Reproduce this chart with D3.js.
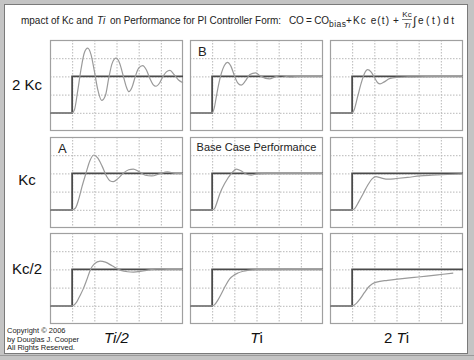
<!DOCTYPE html>
<html><head><meta charset="utf-8">
<script src="https://cdn.jsdelivr.net/npm/d3@7"></script>
<style>body{margin:0;background:#fff}svg{display:block}</style>
</head><body>
<svg id="c" width="474" height="360"></svg>
<script>
// ---- data ----
const rowLabels = ["2 Kc", "Kc", "Kc/2"];
const colLabels = ["Ti/2", "Ti", "2 Ti"];
const xGridTicks = [1, 2, 3, 4, 5];
const yGridTicks = [1, 2, 3, 4];
const spTime = [0, 1, 1, 6];
const spValue = [1, 1, 3, 3];
const pv_2Kc_halfTi = [[0,1],[1,1],[1.1,1.15],[1.25,2.2],[1.4,3.4],[1.55,4.3],[1.7,4.55],[1.85,4.2],[2.0,3.3],[2.15,2.3],[2.33,1.68],[2.5,1.95],[2.65,2.9],[2.8,3.7],[2.98,4.0],[3.15,3.7],[3.3,3.05],[3.45,2.4],[3.56,2.16],[3.7,2.4],[3.85,3.0],[4.0,3.45],[4.18,3.59],[4.35,3.35],[4.5,2.9],[4.65,2.55],[4.78,2.46],[4.95,2.65],[5.1,3.0],[5.25,3.25],[5.41,3.33],[5.6,3.1],[5.8,2.8],[6.0,2.65]];
const pv_2Kc_Ti = [[0,1],[1,1],[1.1,1.3],[1.19,1.9],[1.3,2.6],[1.42,3.19],[1.55,3.6],[1.69,3.77],[1.85,3.55],[2.0,3.05],[2.15,2.65],[2.31,2.52],[2.5,2.75],[2.7,3.1],[2.96,3.19],[3.2,3.0],[3.58,2.86],[3.85,2.97],[4.1,3.05],[4.5,2.97],[5,3.0],[6,3.0]];
const pv_2Kc_2Ti = [[0,1],[1,1],[1.1,1.2],[1.25,1.9],[1.4,2.6],[1.55,3.15],[1.7,3.37],[1.85,3.25],[2.0,2.95],[2.15,2.65],[2.26,2.59],[2.45,2.7],[2.68,2.88],[3.0,2.95],[3.5,2.97],[4,2.98],[5,3.0],[6,3.0]];
const pv_Kc_halfTi = [[0,1],[1,1],[1.15,1.1],[1.3,1.6],[1.45,2.3],[1.62,3.0],[1.8,3.7],[1.98,4.01],[2.15,3.85],[2.35,3.4],[2.55,2.85],[2.7,2.6],[2.86,2.55],[3.05,2.7],[3.3,3.0],[3.55,3.2],[3.76,3.24],[4.0,3.1],[4.3,2.9],[4.59,2.86],[4.95,2.98],[5.3,3.08],[5.65,3.0],[6,3.0]];
const pv_Kc_Ti = [[0,1],[1,1],[1.1,1.05],[1.2,1.35],[1.35,1.9],[1.57,2.46],[1.87,3.0],[2.09,3.24],[2.3,3.15],[2.5,2.98],[2.76,2.91],[3.0,2.97],[3.5,3.0],[6,3.0]];
const pv_Kc_2Ti = [[0,1],[1,1],[1.1,1.05],[1.3,1.45],[1.5,1.9],[1.7,2.35],[1.9,2.7],[2.07,2.82],[2.3,2.75],[2.63,2.68],[3.0,2.72],[3.5,2.78],[4.06,2.86],[4.6,2.9],[5.3,2.94],[6,2.97]];
const pv_halfKc_halfTi = [[0,1],[1,1],[1.05,1.02],[1.2,1.2],[1.35,1.55],[1.5,1.93],[1.65,2.4],[1.83,3.0],[2.0,3.3],[2.26,3.46],[2.5,3.4],[2.8,3.2],[3.2,2.95],[3.5,2.87],[3.76,2.85],[4.2,2.92],[4.8,3.02],[5.4,3.0],[6,3.0]];
const pv_halfKc_Ti = [[0,1],[1,1],[1.1,1.05],[1.25,1.3],[1.41,1.65],[1.6,2.1],[1.79,2.48],[2.0,2.7],[2.16,2.8],[2.4,2.9],[2.6,2.95],[3,2.99],[6,3.0]];
const pv_halfKc_2Ti = [[0,1],[1,1],[1.1,1.05],[1.2,1.15],[1.35,1.37],[1.55,1.72],[1.73,2.02],[1.9,2.2],[2.1,2.3],[2.6,2.4],[3.16,2.48],[3.8,2.56],[4.36,2.63],[5.0,2.72],[5.56,2.8]];
const pvGrid = [
  [pv_2Kc_halfTi, pv_2Kc_Ti, pv_2Kc_2Ti],
  [pv_Kc_halfTi, pv_Kc_Ti, pv_Kc_2Ti],
  [pv_halfKc_halfTi, pv_halfKc_Ti, pv_halfKc_2Ti]
];
const panelTags = [["", "B", ""], ["A", "Base Case Performance", ""], ["", "", ""]];

// ---- layout ----
const svg = d3.select("#c");
const FF = "'Liberation Sans', Arial, sans-serif";
svg.append("rect").attr("width", 474).attr("height", 360).attr("fill", "#c4c4c4");
svg.append("rect").attr("x", 4.5).attr("y", 4.5).attr("width", 463).attr("height", 349)
  .attr("fill", "#fff").attr("stroke", "#7a7a7a");
svg.append("line").attr("x1", 0).attr("x2", 474).attr("y1", 355.5).attr("y2", 355.5).attr("stroke", "#9a9a9a");

const colX = [50, 190, 330], rowY = [40, 137, 233];
const pw = 133, ph = 91;
const x = d3.scaleLinear().domain([0, 6]).range([0, pw]);
const y = d3.scaleLinear().domain([0, 5]).range([ph, 0]);
const line = d3.line().x(d => x(d[0])).y(d => y(d[1])).curve(d3.curveMonotoneX);
const spData = spTime.map((t, i) => [t, spValue[i]]);
const spLine = d3.line().x(d => x(d[0])).y(d => y(d[1]));

rowY.forEach((py, r) => {
  colX.forEach((px, c) => {
    const g = svg.append("g").attr("transform", `translate(${px},${py})`);
    g.append("rect").attr("width", pw).attr("height", ph).attr("fill", "#fff");
    const gx = g.append("g").call(d3.axisBottom(x).tickValues(xGridTicks).tickSize(ph).tickFormat(""));
    const gy = g.append("g").call(d3.axisLeft(y).tickValues(yGridTicks).tickSize(-pw).tickFormat(""));
    [gx, gy].forEach(a => {
      a.select(".domain").remove();
      a.selectAll(".tick line").attr("stroke", "#b8b8b8").attr("stroke-dasharray", "1.5,1.5");
    });
    g.append("rect").attr("x", 0.5).attr("y", 0.5).attr("width", pw - 1).attr("height", ph - 1)
      .attr("fill", "none").attr("stroke", "#a0a0a0").attr("stroke-width", 1.2);
    g.append("path").datum(spData).attr("d", spLine).attr("fill", "none")
      .attr("stroke", "#4a4a4a").attr("stroke-width", 1.8);
    g.append("path").datum(pvGrid[r][c]).attr("d", line).attr("fill", "none")
      .attr("stroke", "#9a9a9a").attr("stroke-width", 1.2);
    const tag = panelTags[r][c];
    if (tag.length === 1) {
      g.append("text").attr("x", 8).attr("y", 16).attr("font-family", FF).attr("font-size", 13)
        .attr("fill", "#222").text(tag);
    } else if (tag) {
      g.append("text").attr("x", pw / 2).attr("y", 13.5).attr("text-anchor", "middle")
        .attr("font-family", FF).attr("font-size", 11).attr("fill", "#222").text(tag);
    }
  });
});

// row labels
const rowLabelY = [90, 185, 274];
rowLabels.forEach((t, i) => {
  svg.append("text").attr("x", 27).attr("y", rowLabelY[i]).attr("text-anchor", "middle")
    .attr("font-family", FF).attr("font-size", 15).attr("fill", "#111").text(t);
});
// column labels
colLabels.forEach((t, i) => {
  const tx = svg.append("text").attr("x", colX[i] + pw / 2).attr("y", 343).attr("text-anchor", "middle")
    .attr("font-family", FF).attr("font-size", 15).attr("fill", "#111");
  if (i === 0) tx.attr("font-style", "italic").text(t);
  else {
    const idx = t.indexOf("T");
    if (idx > 0) tx.append("tspan").text(t.slice(0, idx));
    tx.append("tspan").attr("font-style", "italic").text("T");
    tx.append("tspan").text(t.slice(idx + 1));
  }
});
// copyright
["Copyright © 2006", "by Douglas J. Cooper", "All Rights Reserved."].forEach((t, i) => {
  svg.append("text").attr("x", 7).attr("y", 333 + i * 8.5).attr("font-family", FF)
    .attr("font-size", 7.5).attr("fill", "#222").text(t);
});
// title
const f = svg.append("g").attr("font-family", FF).attr("fill", "#222").attr("font-size", 10);
function seg(txt, x0, yb, len, extra) {
  const t = f.append("text").attr("x", x0).attr("y", yb).text(txt);
  if (len) t.attr("textLength", len).attr("lengthAdjust", "spacing");
  if (extra) extra(t);
  return t;
}
seg("mpact of Kc and", 21, 23.5, 72);
seg("Ti", 97, 23.5, 0, t => t.attr("font-style", "italic"));
seg("on Performance for PI Controller Form:", 110, 23.5, 171);
seg("CO = CO", 289, 23.5, 40);
seg("bias", 329, 26.5, 17, t => t.attr("font-size", 8.5));
seg("+Kc e(t)", 346, 23.5, 43);
seg("+", 393, 23.5, 0);
seg("Kc", 407, 17, 0, t => t.attr("font-size", 8).attr("text-anchor", "middle"));
seg("Ti", 407, 28, 0, t => t.attr("font-size", 8).attr("text-anchor", "middle").attr("font-style", "italic"));
f.append("line").attr("x1", 402).attr("x2", 412).attr("y1", 19.5).attr("y2", 19.5)
  .attr("stroke", "#444").attr("stroke-width", 0.7);
seg("∫", 413, 25, 0, t => t.attr("font-size", 12));
seg("e(t)dt", 418, 23.5, 36);
</script>
</body></html>
